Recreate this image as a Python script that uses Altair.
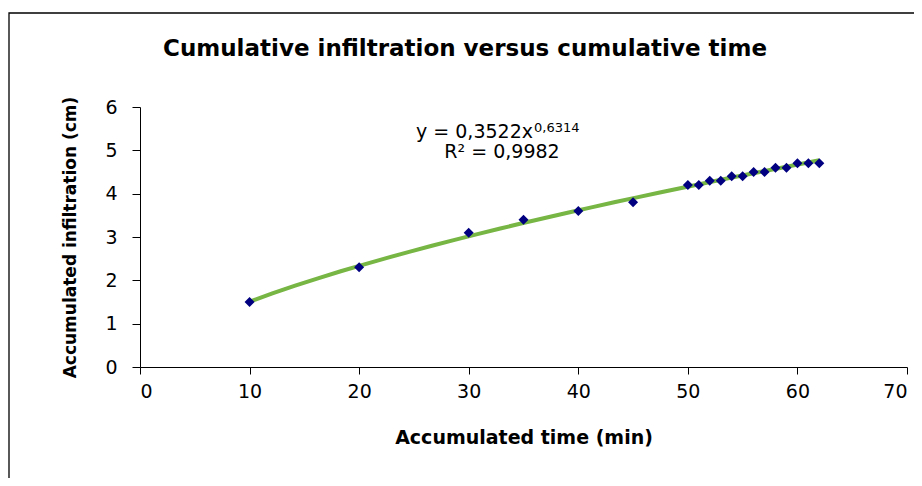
import altair as alt
import pandas as pd

# ---- data ----
time_min = [10, 20, 30, 35, 40, 45, 50, 51, 52, 53, 54, 55, 56, 57, 58, 59, 60, 61, 62]
infiltration_cm = [1.5, 2.3, 3.1, 3.4, 3.6, 3.8, 4.2, 4.2, 4.3, 4.3, 4.4, 4.4, 4.5, 4.5, 4.6, 4.6, 4.7, 4.7, 4.7]
x_ticks = [0, 10, 20, 30, 40, 50, 60, 70]
y_ticks = [0, 1, 2, 3, 4, 5, 6]

title_text = "Cumulative infiltration versus cumulative time"
x_title = "Accumulated time (min)"
y_title = "Accumulated infiltration (cm)"
eq_main = "y = 0,3522x"
eq_sup = "0,6314"
r2_text = "R\u00b2 = 0,9982"

df = pd.DataFrame({"t": time_min, "I": infiltration_cm})

FONT = "DejaVu Sans"
W, H = 767, 260

x_enc = alt.X("t:Q", scale=alt.Scale(domain=[0, 70], nice=False),
              axis=alt.Axis(values=x_ticks, title=x_title, titleX=W / 2, titleY=70,
                            titleBaseline="middle", titleAlign="center"))
y_enc = alt.Y("I:Q", scale=alt.Scale(domain=[0, 6], nice=False),
              axis=alt.Axis(values=y_ticks, title=y_title, titleX=-70, titleY=H / 2,
                            titleAngle=270, titleBaseline="middle", titleAlign="center"))

base = alt.Chart(df)

points = base.mark_point(shape="diamond", filled=True, size=100, color="#000080", opacity=1).encode(
    x=x_enc, y=y_enc)

trend = base.transform_regression("t", "I", method="pow").mark_line(
    color="#77B544", strokeWidth=4).encode(x=alt.X("t:Q"), y=alt.Y("I:Q"))

frame = alt.Chart(pd.DataFrame({"a": [0]})).mark_rect(
    fill=None, stroke="black", strokeWidth=1.3, clip=False).encode(
    x=alt.value(-131), x2=alt.value(800), y=alt.value(-94), y2=alt.value(400))

title = alt.Chart(pd.DataFrame({"s": [title_text]})).mark_text(
    font=FONT, fontSize=23, fontWeight="bold", align="center", baseline="alphabetic", color="black").encode(
    text="s:N", x=alt.value(325), y=alt.value(-51))

eq1 = alt.Chart(pd.DataFrame({"s": [eq_main]})).mark_text(
    font=FONT, fontSize=19, align="right", baseline="alphabetic", color="black").encode(
    text="s:N", x=alt.value(393), y=alt.value(31))

eq2 = alt.Chart(pd.DataFrame({"s": [eq_sup]})).mark_text(
    font=FONT, fontSize=13, align="left", baseline="alphabetic", color="black").encode(
    text="s:N", x=alt.value(394), y=alt.value(25))

eq3 = alt.Chart(pd.DataFrame({"s": [r2_text]})).mark_text(
    font=FONT, fontSize=19, align="center", baseline="alphabetic", color="black").encode(
    text="s:N", x=alt.value(362), y=alt.value(51))

chart = alt.layer(frame, trend, points, title, eq1, eq2, eq3).properties(
    width=W, height=H,
    autosize=alt.AutoSizeParams(type="none"),
    padding={"left": 132, "top": 99, "right": 7, "bottom": 111},
    background="white",
).configure_view(stroke=None).configure_axis(
    domainColor="black", domainWidth=1, tickColor="black", tickWidth=1,
    grid=False, labelFont=FONT, labelFontSize=19, labelColor="black",
    titleFont=FONT, titleFontWeight="bold", titleColor="black",
).configure_axisX(tickSize=7, labelPadding=8, titleFontSize=19
).configure_axisY(tickSize=8, labelPadding=15, titleFontSize=17)

chart.save("out.html", embed_options={"renderer": "svg", "actions": False})
